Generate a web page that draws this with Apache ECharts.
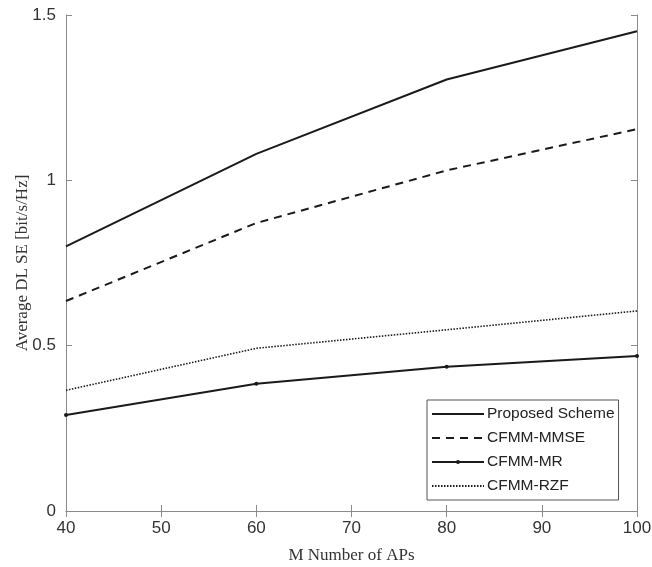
<!DOCTYPE html>
<html>
<head>
<meta charset="utf-8">
<script src="https://cdn.jsdelivr.net/npm/echarts@6/dist/echarts.min.js"></script>
<style>
  html, body { margin: 0; padding: 0; background: #fff; }
  #main { width: 652px; height: 567px; }
</style>
</head>
<body>
<div id="main"></div>
<script>
// data
var apCounts = [40, 60, 80, 100];
var proposedSE = [0.80, 1.08, 1.305, 1.451];
var mmseSE = [0.635, 0.871, 1.03, 1.155];
var mrSE = [0.29, 0.385, 0.436, 0.469];
var rzfSE = [0.365, 0.492, 0.548, 0.605];
var seriesNames = ['Proposed Scheme', 'CFMM-MMSE', 'CFMM-MR', 'CFMM-RZF'];

function pairs(ys) {
  return apCounts.map(function (x, i) { return [x, ys[i]]; });
}

var myChart = echarts.init(document.getElementById('main'));

var axisGrey = '#8a8a8a';
var tickFont = { fontFamily: 'Liberation Sans', fontSize: 17, color: '#333' };

myChart.setOption({
  animation: false,
  backgroundColor: '#fff',
  // fixed plot box, don't let labels push it around
  grid: { left: 66, right: 15, top: 15, bottom: 56, outerBoundsMode: 'none' },
  legend: {
    orient: 'vertical',
    left: 427,
    top: 400,
    padding: [6, 4, 6, 4],
    itemWidth: 52,
    itemHeight: 5,
    itemGap: 8,
    backgroundColor: '#fff',
    borderColor: '#555',
    borderWidth: 1,
    borderRadius: 0,
    textStyle: { fontFamily: 'Liberation Sans', fontSize: 15.5, color: '#222', padding: [0, 0, 0, -2] },
    // only the MR curve has markers
    data: [
      { name: seriesNames[0], itemStyle: { opacity: 0 } },
      { name: seriesNames[1], itemStyle: { opacity: 0 } },
      { name: seriesNames[2] },
      { name: seriesNames[3], itemStyle: { opacity: 0 } }
    ]
  },
  xAxis: [
    {
      type: 'value',
      min: 40,
      max: 100,
      interval: 10,
      name: 'M Number of APs',
      nameLocation: 'middle',
      nameGap: 36,
      nameTextStyle: { fontFamily: 'Liberation Serif', fontSize: 17, color: '#333' },
      axisLine: { lineStyle: { color: axisGrey, width: 1 } },
      axisTick: { inside: true, length: 6, lineStyle: { color: axisGrey } },
      axisLabel: Object.assign({ margin: 9 }, tickFont),
      splitLine: { show: false }
    },
    {
      type: 'value',
      position: 'top',
      min: 40,
      max: 100,
      interval: 10,
      axisLine: { show: true, lineStyle: { color: axisGrey, width: 1 } },
      axisTick: { inside: true, length: 6, lineStyle: { color: axisGrey } },
      axisLabel: { show: false },
      splitLine: { show: false }
    }
  ],
  yAxis: [
    {
      type: 'value',
      min: 0,
      max: 1.5,
      interval: 0.5,
      name: 'Average DL SE [bit/s/Hz]',
      nameLocation: 'middle',
      nameGap: 35,
      nameMoveOverlap: false,
      nameTextStyle: { fontFamily: 'Liberation Serif', fontSize: 17, color: '#333' },
      axisLine: { show: true, lineStyle: { color: axisGrey, width: 1 } },
      axisTick: { show: true, inside: true, length: 6, lineStyle: { color: axisGrey } },
      axisLabel: Object.assign({ margin: 10 }, tickFont),
      splitLine: { show: false }
    },
    {
      type: 'value',
      position: 'right',
      min: 0,
      max: 1.5,
      interval: 0.5,
      axisLine: { show: true, lineStyle: { color: axisGrey, width: 1 } },
      axisTick: { show: true, inside: true, length: 6, lineStyle: { color: axisGrey } },
      axisLabel: { show: false },
      splitLine: { show: false }
    }
  ],
  series: [
    {
      name: seriesNames[0],
      type: 'line',
      data: pairs(proposedSE),
      symbol: 'none',
      color: '#1a1a1a',
      lineStyle: { color: '#1a1a1a', width: 2 }
    },
    {
      name: seriesNames[1],
      type: 'line',
      data: pairs(mmseSE),
      symbol: 'none',
      color: '#1a1a1a',
      lineStyle: { color: '#1a1a1a', width: 2, type: [8, 6] }
    },
    {
      name: seriesNames[2],
      type: 'line',
      data: pairs(mrSE),
      symbol: 'circle',
      symbolSize: 4,
      color: '#1a1a1a',
      itemStyle: { color: '#1a1a1a' },
      lineStyle: { color: '#1a1a1a', width: 2 }
    },
    {
      name: seriesNames[3],
      type: 'line',
      data: pairs(rzfSE),
      symbol: 'none',
      color: '#1a1a1a',
      lineStyle: { color: '#1a1a1a', width: 1.6, type: [1.5, 1.5] }
    }
  ]
});
</script>
</body>
</html>
